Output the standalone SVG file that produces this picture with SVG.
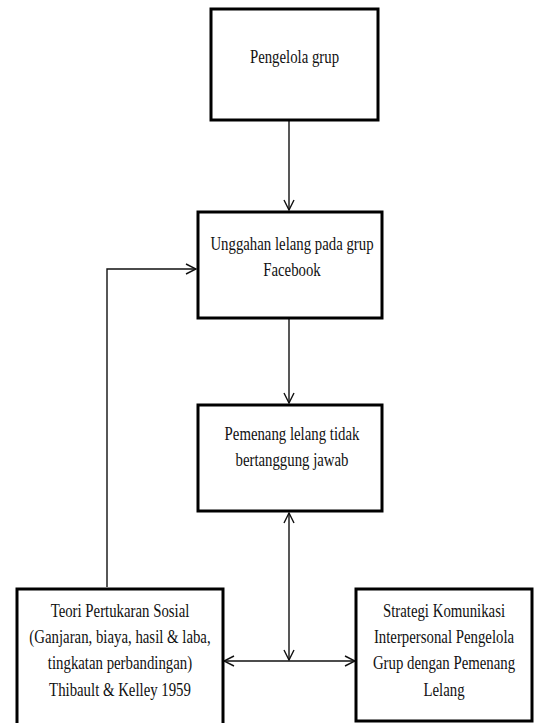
<svg xmlns="http://www.w3.org/2000/svg" width="535" height="723" viewBox="0 0 535 723">
<style>
.box{fill:#fff;stroke:#000;stroke-width:3}
.t{font-family:"Liberation Serif","Times New Roman",serif;font-size:19.5px;fill:#111;text-anchor:middle}
.c{fill:none;stroke:#111;stroke-width:1.4}
</style>
<defs>
<marker id="ah" markerUnits="userSpaceOnUse" markerWidth="12" markerHeight="12" refX="11" refY="6" orient="auto-start-reverse" viewBox="0 0 12 12">
<path d="M1,1 L11,6 L1,11" fill="none" stroke="#111" stroke-width="1.4"/>
</marker>
</defs>
<g id="connectors">
<line class="c" x1="289" y1="121" x2="289" y2="210" marker-end="url(#ah)"/>
<line class="c" x1="289" y1="318" x2="289" y2="403" marker-end="url(#ah)"/>
<line class="c" x1="289" y1="513" x2="289" y2="660" marker-start="url(#ah)" marker-end="url(#ah)"/>
<line class="c" x1="224" y1="661" x2="355" y2="661" marker-start="url(#ah)" marker-end="url(#ah)"/>
<polyline class="c" points="107,587 107,269 196,269" marker-end="url(#ah)"/>
</g>
<g id="pengelola">
<rect class="box" x="211" y="9" width="167" height="111"/>
<text class="t" transform="translate(294.5,63) scale(0.76,1)">Pengelola grup</text>
</g>
<g id="unggahan">
<rect class="box" x="198" y="212" width="184" height="106"/>
<text class="t" transform="translate(292,250) scale(0.76,1)">Unggahan lelang pada grup</text>
<text class="t" transform="translate(292,276) scale(0.76,1)">Facebook</text>
</g>
<g id="pemenang">
<rect class="box" x="198" y="405" width="184" height="106"/>
<text class="t" transform="translate(292,440) scale(0.76,1)">Pemenang lelang tidak</text>
<text class="t" transform="translate(292,466) scale(0.76,1)">bertanggung jawab</text>
</g>
<g id="teori">
<rect class="box" x="17" y="589" width="206" height="140"/>
<text class="t" transform="translate(120,617) scale(0.76,1)">Teori Pertukaran Sosial</text>
<text class="t" transform="translate(120,643) scale(0.76,1)">(Ganjaran, biaya, hasil &amp; laba,</text>
<text class="t" transform="translate(120,669) scale(0.76,1)">tingkatan perbandingan)</text>
<text class="t" transform="translate(120,696) scale(0.76,1)">Thibault &amp; Kelley 1959</text>
</g>
<g id="strategi">
<rect class="box" x="356" y="589" width="176" height="132"/>
<text class="t" transform="translate(444,617) scale(0.76,1)">Strategi Komunikasi</text>
<text class="t" transform="translate(444,643) scale(0.76,1)">Interpersonal Pengelola</text>
<text class="t" transform="translate(444,669) scale(0.76,1)">Grup dengan Pemenang</text>
<text class="t" transform="translate(444,696) scale(0.76,1)">Lelang</text>
</g>
</svg>
